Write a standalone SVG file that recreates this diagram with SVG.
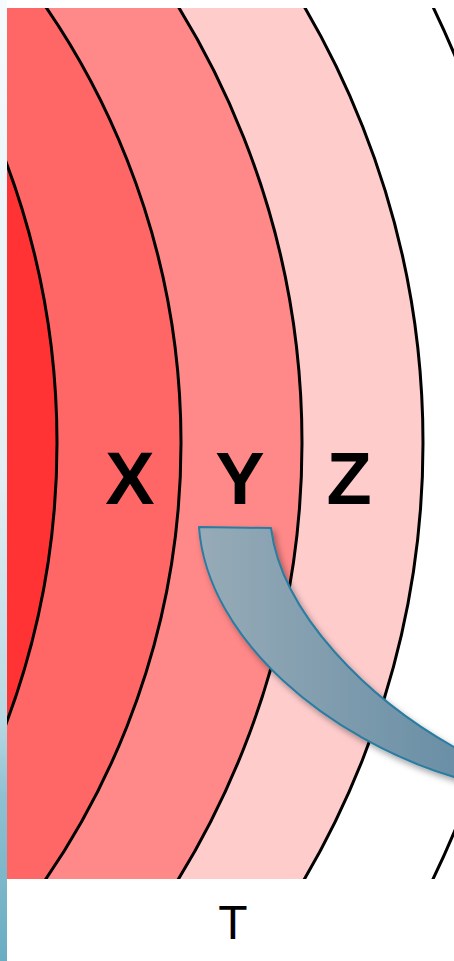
<svg xmlns="http://www.w3.org/2000/svg" width="454" height="961" viewBox="0 0 454 961">
  <style>
    .ring { stroke: #000; stroke-width: 3; }
    .lbl { font-family: "Liberation Sans", Arial, sans-serif; font-weight: bold; font-size: 74px; fill: #000; text-anchor: middle; }
    .cap { font-family: "Liberation Sans", Arial, sans-serif; font-size: 48px; fill: #000; text-anchor: middle; }
  </style>
  <defs>
    <clipPath id="area"><rect x="7" y="8" width="447" height="871"/></clipPath>
    <linearGradient id="strip" x1="0" y1="0" x2="0" y2="1">
      <stop offset="0" stop-color="#f6fbfd"/>
      <stop offset="0.5" stop-color="#e2eef3"/>
      <stop offset="0.75" stop-color="#b8d8e3"/>
      <stop offset="0.83" stop-color="#8ec0d1"/>
      <stop offset="1" stop-color="#6aadc3"/>
    </linearGradient>
    <linearGradient id="arrowFill" x1="199" y1="0" x2="454" y2="0" gradientUnits="userSpaceOnUse">
      <stop offset="0" stop-color="#97abb7"/>
      <stop offset="1" stop-color="#6a8fa6"/>
    </linearGradient>
    <filter id="shadow" x="-20%" y="-20%" width="140%" height="140%">
      <feDropShadow dx="3" dy="4" stdDeviation="3" flood-color="#000" flood-opacity="0.35"/>
    </filter>
  </defs>

  <rect x="0" y="0" width="454" height="961" fill="#fff"/>
  <rect id="left-strip" x="0" y="0" width="7" height="961" fill="url(#strip)"/>

  <g id="rings" clip-path="url(#area)">
    <rect x="7" y="8" width="447" height="871" fill="#fff"/>
    <circle id="ring5" class="ring" cx="-467" cy="443" r="1000" fill="#fff"/>
    <circle id="ring4" class="ring" cx="-437" cy="443" r="860" fill="#ffcccc"/>
    <circle id="ring3" class="ring" cx="-528" cy="443" r="830" fill="#ff8888"/>
    <circle id="ring2" class="ring" cx="-589" cy="443" r="770" fill="#ff6666"/>
    <circle id="ring1" class="ring" cx="-743" cy="443" r="800" fill="#ff3333"/>
  </g>

  <g id="labels">
    <g id="label-x"><text class="lbl" x="130" y="504">X</text></g>
    <g id="label-y"><text class="lbl" x="240" y="504">Y</text></g>
    <g id="label-z"><text class="lbl" x="349" y="504">Z</text></g>
  </g>

  <g id="connectors">
    <path id="curved-arrow" filter="url(#shadow)" fill="url(#arrowFill)" stroke="#2a7ca0" stroke-width="2" stroke-linejoin="round"
      d="M199,527 L271,528 C282,615 370,700 454,747 L480,762 L480,785 L454,777 C330,740 207,640 199,527 Z"/>
  </g>

  <g id="caption"><text class="cap" x="233" y="939">T</text></g>
</svg>
